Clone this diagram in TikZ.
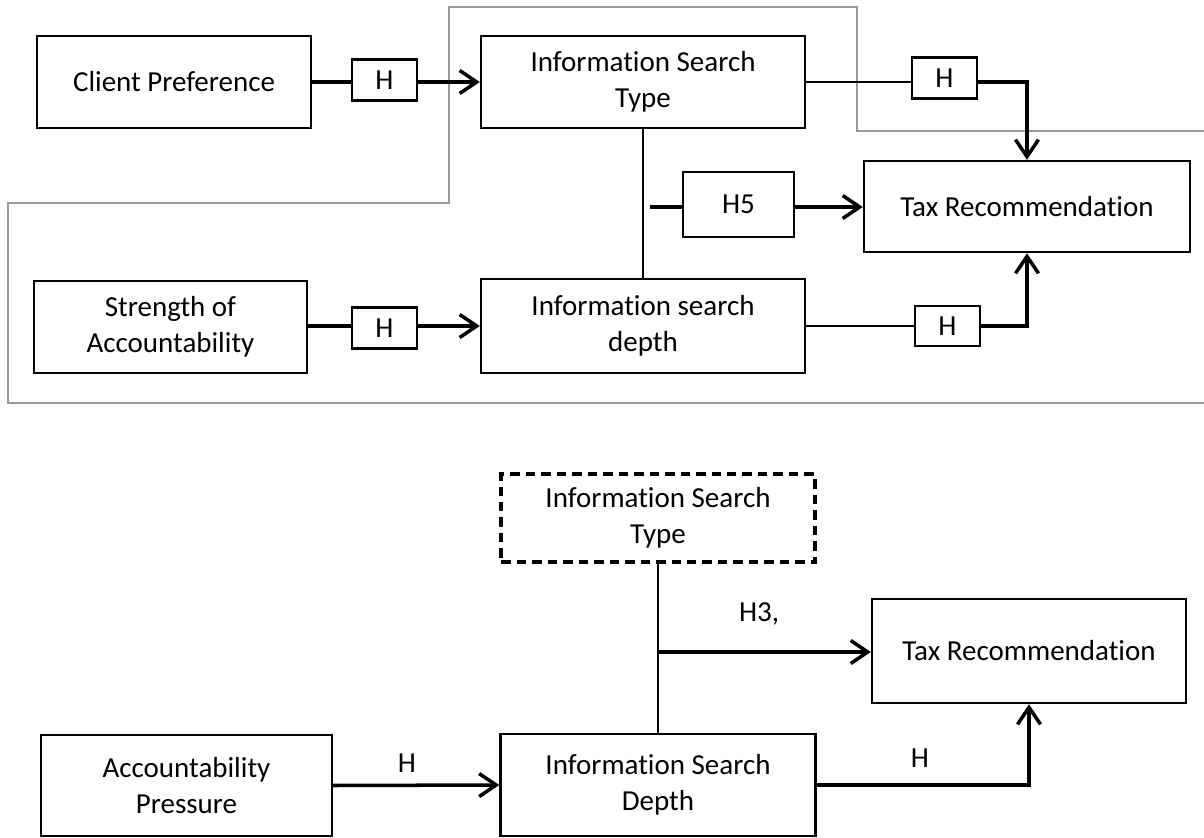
\documentclass[tikz,border=0pt]{standalone}
\usepackage{fontspec}
\setmainfont{Carlito}[Ligatures=NoCommon]
\usetikzlibrary{positioning, arrows.meta}

\begin{document}
\begin{tikzpicture}[x=0.02cm, y=-0.02cm, font=\fontsize{16.5}{20.5}\selectfont]
        \tikzstyle{var} = [rectangle, draw=black, line width=1.4pt, inner sep=0pt,
          align=center, minimum width=6.48cm, minimum height=1.84cm]
        \tikzstyle{hbox} = [rectangle, draw=black, line width=1.4pt, inner sep=0pt,
          minimum width=1.3cm, minimum height=0.82cm]
        \tikzstyle{link} = [draw=black, line width=2pt]
        \tikzstyle{thin link} = [draw=black, line width=1.4pt]
        \tikzstyle{arr} = [link, -{Straight Barb[length=0.34cm, width=0.46cm]}]
        \tikzstyle{frame} = [draw=black!40, line width=1.2pt]

        \useasboundingbox (0,0) rectangle (1204,838);

        \draw[frame] (1204,131) -- (857,131) -- (857,7) -- (449,7) -- (449,203)
          -- (8,203) -- (8,403) -- (1204,403);

        \node[var, minimum width=5.48cm] (cp) at (174,82) {Client Preference};
        \node[hbox] (hcp) at (384.5,80) {H};
        \node[var] (ist) at (643,82) {Information Search\\Type};
        \node[hbox] (hist) at (944.5,78) {H};
        \node[var, minimum width=6.52cm, minimum height=1.82cm] (tax) at (1027,206.5) {Tax Recommendation};
        \node[hbox, minimum width=2.22cm, minimum height=1.3cm] (h5) at (738.5,204.5) {H5};
        \node[var, minimum width=5.46cm] (soa) at (170.5,327) {Strength of\\Accountability};
        \node[hbox] (hsoa) at (384.5,328) {H};
        \node[var, minimum height=1.88cm] (isd) at (643,326) {Information search\\depth};
        \node[hbox, minimum height=0.8cm] (hisd) at (947.5,326) {H};
        \coordinate (m5) at (650,207);

        \draw[link] (cp.east) -- (cp.east -| hcp.west);
        \draw[arr] (cp.east -| hcp.east) -- (ist.west);
        \draw[thin link] (ist.east) -- (ist.east -| hist.west);
        \draw[arr] (ist.east -| hist.east) -| (tax.north);
        \draw[thin link] (ist.south) -- (isd.north);
        \draw[link] (m5) -- (m5 -| h5.west);
        \draw[arr] (m5 -| h5.east) -- (m5 -| tax.west);
        \draw[link] (isd.west -| soa.east) -- (isd.west -| hsoa.west);
        \draw[arr] (isd.west -| hsoa.east) -- (isd.west);
        \draw[thin link] (isd.east) -- (hisd.west);
        \draw[arr] (hisd.east) -| (tax.south);

        \node[var, line width=1.9pt, dash pattern=on 0.19cm off 0.12cm,
          minimum width=6.28cm, minimum height=1.76cm] (dist) at (658,518) {Information Search\\Type};
        \node[var, minimum width=6.28cm, minimum height=2.08cm] (tax2) at (1029,651) {Tax Recommendation};
        \node[var, minimum width=5.82cm, minimum height=2.02cm] (ap) at (186.5,785.5) {Accountability\\Pressure};
        \node[var, minimum width=6.3cm, minimum height=2.04cm] (isd2) at (658,785) {Information Search\\Depth};
        \coordinate (m3) at (658,652);
        \node (l3) at (759,614) {H3,};
        \node (lap) at (407,763) {H};
        \node (lisd) at (920,758) {H};

        \draw[thin link] (dist.south) -- (isd2.north);
        \draw[arr] (m3) -- (m3 -| tax2.west);
        \draw[arr] (ap.east) -- (isd2.west);
        \draw[arr] (isd2.east) -| (tax2.south);
      \end{tikzpicture}
\end{document}
